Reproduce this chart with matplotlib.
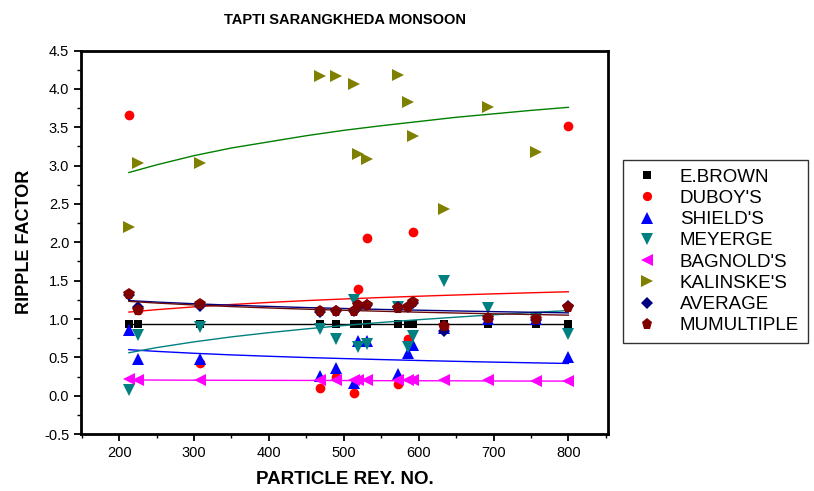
import numpy as np
import matplotlib
matplotlib.use("Agg")
import matplotlib.pyplot as plt
from matplotlib.ticker import MultipleLocator, FormatStrFormatter

plt.rcParams['font.family'] = ['Liberation Sans', 'DejaVu Sans']
plt.rcParams['axes.unicode_minus'] = False

# particle Reynolds numbers (x positions of the samples)
rey_no = [213, 225, 308, 468, 490, 513, 519, 531, 572, 586, 593, 634, 692, 757, 800]

# ripple factor by method
e_brown = [0.94, 0.94, 0.94, 0.94, 0.94, 0.94, 0.94, 0.94, 0.94, 0.94, 0.94, 0.94, 0.94, 0.94, 0.94]
duboys = [3.66, 1.12, 0.43, 0.10, 0.25, 0.04, 1.39, 2.05, 0.15, 0.74, 2.13, 0.90, 1.00, 1.00, 3.52]
shields = [0.86, 0.48, 0.48, 0.26, 0.36, 0.17, 0.71, 0.71, 0.28, 0.56, 0.66, 0.88, 1.00, 1.00, 0.51]
meyerge = [0.07, 0.79, 0.90, 0.87, 0.74, 1.25, 0.63, 0.68, 1.16, 0.63, 0.78, 1.50, 1.14, 1.00, 0.80]
bagnolds = [0.22, 0.20, 0.20, 0.21, 0.20, 0.20, 0.20, 0.20, 0.20, 0.20, 0.20, 0.20, 0.20, 0.19, 0.19]
kalinskes = [2.20, 3.04, 3.04, 4.17, 4.17, 4.07, 3.15, 3.08, 4.18, 3.83, 3.38, 2.44, 3.76, 3.18, np.nan]
average = [1.31, 1.16, 1.17, 1.09, 1.10, 1.10, 1.16, 1.18, 1.16, 1.16, 1.21, 0.84, 1.00, 0.99, 1.17]
mumultiple = [1.32, 1.12, 1.20, 1.10, 1.11, 1.10, 1.18, 1.18, 1.14, 1.16, 1.22, 0.91, 1.01, 1.00, 1.16]

# trend lines
trend_x = [213, 250, 300, 350, 400, 450, 500, 550, 600, 650, 700, 750, 800]
trend_e_brown = [0.94] * 13
trend_duboys = [1.09, 1.122, 1.158, 1.189, 1.216, 1.240, 1.261, 1.280, 1.297, 1.313, 1.328, 1.342, 1.355]
trend_shields = [0.60, 0.578, 0.553, 0.532, 0.514, 0.498, 0.484, 0.471, 0.459, 0.448, 0.438, 0.429, 0.420]
trend_meyerge = [0.56, 0.627, 0.702, 0.767, 0.822, 0.871, 0.915, 0.955, 0.991, 1.024, 1.055, 1.084, 1.110]
trend_bagnolds = [0.205, 0.204, 0.202, 0.201, 0.200, 0.199, 0.198, 0.196, 0.195, 0.194, 0.192, 0.191, 0.190]
trend_kalinskes = [2.91, 3.01, 3.13, 3.23, 3.31, 3.39, 3.46, 3.52, 3.575, 3.63, 3.675, 3.72, 3.76]
trend_average = [1.24, 1.221, 1.199, 1.180, 1.164, 1.149, 1.137, 1.125, 1.115, 1.105, 1.096, 1.088, 1.080]
trend_mumultiple = [1.23, 1.208, 1.183, 1.162, 1.144, 1.128, 1.114, 1.101, 1.089, 1.078, 1.068, 1.059, 1.050]

series = [
    ("E.BROWN", e_brown, trend_e_brown, 's', 'black', 'black', 6),
    ("DUBOY'S", duboys, trend_duboys, 'o', '#FF0000', '#FF0000', 7),
    ("SHIELD'S", shields, trend_shields, '^', '#0000FF', '#0000FF', 8.5),
    ("MEYERGE", meyerge, trend_meyerge, 'v', '#008080', '#008080', 8.5),
    ("BAGNOLD'S", bagnolds, trend_bagnolds, '<', '#FF00FF', '#FF00FF', 8.5),
    ("KALINSKE'S", kalinskes, trend_kalinskes, '>', '#808000', '#008000', 8.5),
    ("AVERAGE", average, trend_average, 'D', '#000080', '#000080', 6.5),
    ("MUMULTIPLE", mumultiple, trend_mumultiple, 'p', '#800000', '#6A0A0A', 8.5),
]

fig = plt.figure(figsize=(8.14, 4.91), dpi=100)
ax = fig.add_axes([0.0995, 0.116, 0.6475, 0.781])

handles = []
for name, vals, trend, mk, col, lcol, ms in series:
    h, = ax.plot(rey_no, vals, linestyle='none', marker=mk, color=col,
                 markersize=ms, markeredgewidth=0, label=name)
    ax.plot(trend_x, trend, color=lcol, lw=1.0)
    handles.append(h)

ax.set_xlim(149, 853)
ax.set_ylim(-0.5, 4.5)
ax.xaxis.set_major_locator(MultipleLocator(100))
ax.xaxis.set_minor_locator(MultipleLocator(50))
ax.yaxis.set_major_locator(MultipleLocator(0.5))
ax.yaxis.set_minor_locator(MultipleLocator(0.25))
ax.yaxis.set_major_formatter(FormatStrFormatter('%.1f'))

ax.tick_params(axis='both', which='major', direction='out', length=5, width=1.3, labelsize=10.5)
ax.tick_params(axis='both', which='minor', direction='out', length=3, width=1)
ax.tick_params(top=False, right=False)
for sp in ax.spines.values():
    sp.set_linewidth(2)

ax.set_title('TAPTI SARANGKHEDA MONSOON', fontsize=10.5, fontweight='bold', pad=19)
ax.set_xlabel('PARTICLE REY. NO.', fontsize=13.5, fontweight='bold', labelpad=8)
ax.set_ylabel('RIPPLE FACTOR', fontsize=13, fontweight='bold', labelpad=8)

leg = fig.legend(handles=handles, loc='upper left', bbox_to_anchor=(0.765, 0.674),
                 frameon=True, fancybox=False, edgecolor='black', fontsize=13.5,
                 handlelength=1.7, handletextpad=0.9, labelspacing=0.22,
                 borderpad=0.45, borderaxespad=0, markerscale=0.95)
leg.get_frame().set_linewidth(1.0)

fig.savefig('out.png', dpi=100)
